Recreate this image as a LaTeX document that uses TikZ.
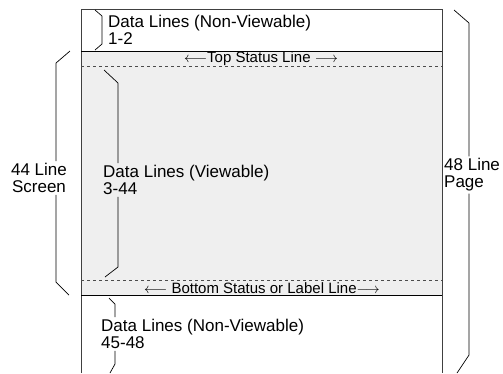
\documentclass[tikz,border=0pt]{standalone}
\usepackage{fontspec}
\setmainfont{Liberation Sans}
\usetikzlibrary{positioning}
\definecolor{screengray}{RGB}{239,239,239}
\begin{document}
\begin{tikzpicture}[x=1pt,y=-1pt,line cap=butt,line join=miter,font=\fontsize{17}{17}\selectfont]
	\tikzset{brace/.style={black,line width=0.7pt},
		label/.style={align=left,inner sep=2pt},
		status/.style={inner sep=1pt,font=\fontsize{15}{15}\selectfont}}
	\useasboundingbox (0,0) rectangle (503,373);
	%--------- Page and screen
	\fill[screengray] (81,51) rectangle (442,295);
	\draw[line width=0.9pt,black!75] (81,373)--(81,9)--(442,9)--(442,373);
	\draw[line width=1pt] (81,51)--(442,51) (81,295)--(442,295);
	\draw[dashed,line width=0.6pt,black!70] (81,66)--(442,66) (81,280)--(442,280);
	%--------- Status lines
	\node[status] (top) at (261,59) {$\longleftarrow$Top Status Line $\longrightarrow$};
	\node[status] (bot) at (262,288) {$\longleftarrow$ Bottom Status or Label Line$\longrightarrow$};
	%--------- Labels
	\node[label,anchor=west] (nv1) at (106,30) {Data Lines (Non-Viewable)\\1-2};
	\node[label,anchor=west] (vw) at (101,180) {Data Lines (Viewable)\\3-44};
	\node[label,anchor=west] (nv2) at (99,334) {Data Lines (Non-Viewable)\\45-48};
	\node[align=center,inner sep=2pt] (scr) at (39,178) {44 Line\\Screen};
	\node[label,anchor=west] (pg) at (442,175) {48 Line\\Page};
	%--------- Braces
	\coordinate (a1) at (95,10);  \coordinate (a2) at (102,16);
	\coordinate (a3) at (102,44); \coordinate (a4) at (95,50);
	\draw[brace] (a1)--(a2)--(a3)--(a4);
	\coordinate (b1) at (70,51);  \coordinate (b2) at (56,63);
	\coordinate (b3) at (56,282); \coordinate (b4) at (69,295);
	\draw[brace] (b1)--(b2)--(b2 |- scr.north);
	\draw[brace] (b3 |- scr.south)--(b3)--(b4);
	\coordinate (c1) at (104,70);  \coordinate (c2) at (118,83);
	\coordinate (c3) at (118,267); \coordinate (c4) at (105,277);
	\draw[brace] (c1)--(c2)--(c2 |- vw.north);
	\draw[brace] (c3 |- vw.south)--(c3)--(c4);
	\coordinate (d1) at (454,10);  \coordinate (d2) at (469,23);
	\coordinate (d3) at (469,355); \coordinate (d4) at (457,373);
	\draw[brace] (d1)--(d2)--(d2 |- pg.north);
	\draw[brace] (d3 |- pg.south)--(d3)--(d4);
	\coordinate (e1) at (109,298); \coordinate (e2) at (115,304);
	\coordinate (e3) at (115,364); \coordinate (e4) at (110,373);
	\draw[brace] (e1)--(e2)--(e2 |- nv2.north);
	\draw[brace] (e3 |- nv2.south)--(e3)--(e4);
\end{tikzpicture}
\end{document}
